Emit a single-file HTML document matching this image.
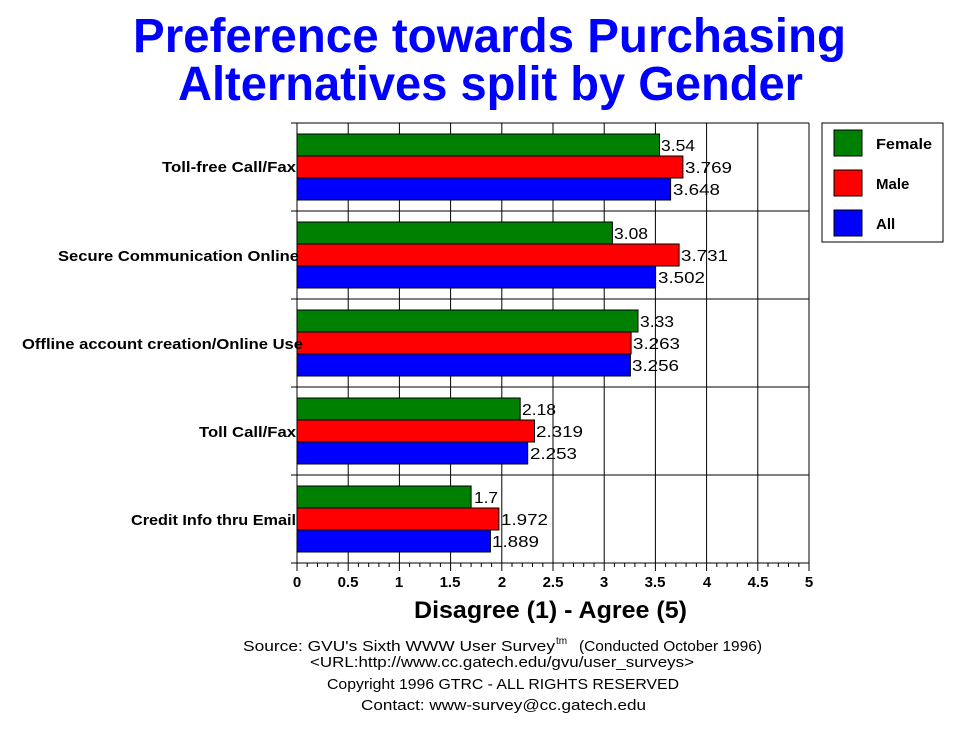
<!DOCTYPE html>
<html><head><meta charset="utf-8"><style>
body{margin:0;background:#fff;}
svg text{font-family:"Liberation Sans",Arial,sans-serif;}
</style></head><body>
<svg width="970" height="736" viewBox="0 0 970 736" xmlns="http://www.w3.org/2000/svg">
<text x="133" y="52" textLength="713" lengthAdjust="spacingAndGlyphs" font-size="48" font-weight="bold" fill="#0000ff">Preference towards Purchasing</text>
<text x="178" y="100" textLength="625" lengthAdjust="spacingAndGlyphs" font-size="48" font-weight="bold" fill="#0000ff">Alternatives split by Gender</text>
<g stroke="#000" stroke-width="1">
<line x1="297" y1="123" x2="809" y2="123"/>
<line x1="297" y1="123" x2="297" y2="563"/>
<line x1="297" y1="563" x2="809" y2="563"/>
<line x1="809" y1="123" x2="809" y2="563"/>
<line x1="348.2" y1="123" x2="348.2" y2="563"/>
<line x1="399.4" y1="123" x2="399.4" y2="563"/>
<line x1="450.6" y1="123" x2="450.6" y2="563"/>
<line x1="501.8" y1="123" x2="501.8" y2="563"/>
<line x1="553" y1="123" x2="553" y2="563"/>
<line x1="604.2" y1="123" x2="604.2" y2="563"/>
<line x1="655.4" y1="123" x2="655.4" y2="563"/>
<line x1="706.6" y1="123" x2="706.6" y2="563"/>
<line x1="757.8" y1="123" x2="757.8" y2="563"/>
<line x1="291" y1="211" x2="809" y2="211"/>
<line x1="291" y1="299" x2="809" y2="299"/>
<line x1="291" y1="387" x2="809" y2="387"/>
<line x1="291" y1="475" x2="809" y2="475"/>
<line x1="291" y1="123" x2="297" y2="123"/>
<line x1="291" y1="563" x2="297" y2="563"/>
</g>
<g stroke="#000" stroke-width="1">
<rect x="297" y="134" width="362.5" height="22" fill="#008000"/>
<rect x="297" y="156" width="385.9" height="22" fill="#ff0000"/>
<rect x="297" y="178" width="373.6" height="22" fill="#0000ff"/>
<rect x="297" y="222" width="315.4" height="22" fill="#008000"/>
<rect x="297" y="244" width="382.1" height="22" fill="#ff0000"/>
<rect x="297" y="266" width="358.6" height="22" fill="#0000ff"/>
<rect x="297" y="310" width="341" height="22" fill="#008000"/>
<rect x="297" y="332" width="334.1" height="22" fill="#ff0000"/>
<rect x="297" y="354" width="333.4" height="22" fill="#0000ff"/>
<rect x="297" y="398" width="223.2" height="22" fill="#008000"/>
<rect x="297" y="420" width="237.5" height="22" fill="#ff0000"/>
<rect x="297" y="442" width="230.7" height="22" fill="#0000ff"/>
<rect x="297" y="486" width="174.1" height="22" fill="#008000"/>
<rect x="297" y="508" width="201.9" height="22" fill="#ff0000"/>
<rect x="297" y="530" width="193.4" height="22" fill="#0000ff"/>
</g>
<g font-size="16" fill="#000" lengthAdjust="spacingAndGlyphs">
<text x="661" y="151" textLength="34" lengthAdjust="spacingAndGlyphs">3.54</text><text x="685" y="173" textLength="47" lengthAdjust="spacingAndGlyphs">3.769</text><text x="673" y="195" textLength="47" lengthAdjust="spacingAndGlyphs">3.648</text>
<text x="614" y="239" textLength="34" lengthAdjust="spacingAndGlyphs">3.08</text><text x="681" y="261" textLength="47" lengthAdjust="spacingAndGlyphs">3.731</text><text x="658" y="283" textLength="47" lengthAdjust="spacingAndGlyphs">3.502</text>
<text x="640" y="327" textLength="34" lengthAdjust="spacingAndGlyphs">3.33</text><text x="633" y="349" textLength="47" lengthAdjust="spacingAndGlyphs">3.263</text><text x="632" y="371" textLength="47" lengthAdjust="spacingAndGlyphs">3.256</text>
<text x="522" y="415" textLength="34" lengthAdjust="spacingAndGlyphs">2.18</text><text x="536" y="437" textLength="47" lengthAdjust="spacingAndGlyphs">2.319</text><text x="530" y="459" textLength="47" lengthAdjust="spacingAndGlyphs">2.253</text>
<text x="474" y="503" textLength="24" lengthAdjust="spacingAndGlyphs">1.7</text><text x="501" y="525" textLength="47" lengthAdjust="spacingAndGlyphs">1.972</text><text x="492" y="547" textLength="47" lengthAdjust="spacingAndGlyphs">1.889</text>
</g>
<g font-size="15" font-weight="bold" fill="#000">
<text x="162" y="172" textLength="134" lengthAdjust="spacingAndGlyphs">Toll-free Call/Fax</text>
<text x="58" y="261" textLength="241" lengthAdjust="spacingAndGlyphs">Secure Communication Online</text>
<text x="22" y="349" textLength="281" lengthAdjust="spacingAndGlyphs">Offline account creation/Online Use</text>
<text x="199" y="437" textLength="97" lengthAdjust="spacingAndGlyphs">Toll Call/Fax</text>
<text x="131" y="525" textLength="165" lengthAdjust="spacingAndGlyphs">Credit Info thru Email</text>
</g>
<g font-size="15" font-weight="bold" fill="#000" text-anchor="middle">
<text x="297" y="587">0</text><text x="348" y="587">0.5</text><text x="399" y="587">1</text><text x="450" y="587">1.5</text><text x="502" y="587">2</text><text x="553" y="587">2.5</text><text x="604" y="587">3</text><text x="655" y="587">3.5</text><text x="707" y="587">4</text><text x="758" y="587">4.5</text><text x="809" y="587">5</text>
</g>
<text x="414" y="618" textLength="273" lengthAdjust="spacingAndGlyphs" font-size="24" font-weight="bold">Disagree (1) - Agree (5)</text>
<rect x="822" y="123" width="121" height="119" fill="#fff" stroke="#000"/>
<rect x="834" y="130" width="28" height="26" fill="#008000" stroke="#000"/>
<rect x="834" y="170" width="28" height="26" fill="#ff0000" stroke="#000"/>
<rect x="834" y="210" width="28" height="26" fill="#0000ff" stroke="#000"/>
<g font-size="15" font-weight="bold"><text x="876" y="149" textLength="56" lengthAdjust="spacingAndGlyphs">Female</text><text x="876" y="189">Male</text><text x="876" y="229">All</text></g>
<g font-size="15">
<text x="243" y="651" textLength="312" lengthAdjust="spacingAndGlyphs">Source: GVU's Sixth WWW User Survey</text>
<text x="556" y="644" font-size="10">tm</text>
<text x="579" y="651" textLength="183" lengthAdjust="spacingAndGlyphs">(Conducted October 1996)</text>
<text x="310" y="667" textLength="384" lengthAdjust="spacingAndGlyphs">&lt;URL:http://www.cc.gatech.edu/gvu/user_surveys&gt;</text>
<text x="327" y="689" textLength="352" lengthAdjust="spacingAndGlyphs">Copyright 1996 GTRC -  ALL RIGHTS RESERVED</text>
<text x="361" y="710" textLength="285" lengthAdjust="spacingAndGlyphs">Contact: www-survey@cc.gatech.edu</text>
</g>
<g stroke="#000">
<path d="M297 563v8M348.2 563v8M399.4 563v8M450.6 563v8M501.8 563v8M553 563v8M604.2 563v8M655.4 563v8M706.6 563v8M757.8 563v8M809 563v8"/>
<path d="M307.2 563v4M317.5 563v4M327.7 563v4M338 563v4M358.4 563v4M368.7 563v4M378.9 563v4M389.2 563v4M409.6 563v4M419.9 563v4M430.1 563v4M440.4 563v4M460.8 563v4M471.1 563v4M481.3 563v4M491.6 563v4M512 563v4M522.3 563v4M532.5 563v4M542.8 563v4M563.2 563v4M573.5 563v4M583.7 563v4M594 563v4M614.4 563v4M624.7 563v4M634.9 563v4M645.2 563v4M665.6 563v4M675.9 563v4M686.1 563v4M696.4 563v4M716.8 563v4M727.1 563v4M737.3 563v4M747.6 563v4M768 563v4M778.3 563v4M788.5 563v4M798.8 563v4"/>
</g>
</svg>
</body></html>
